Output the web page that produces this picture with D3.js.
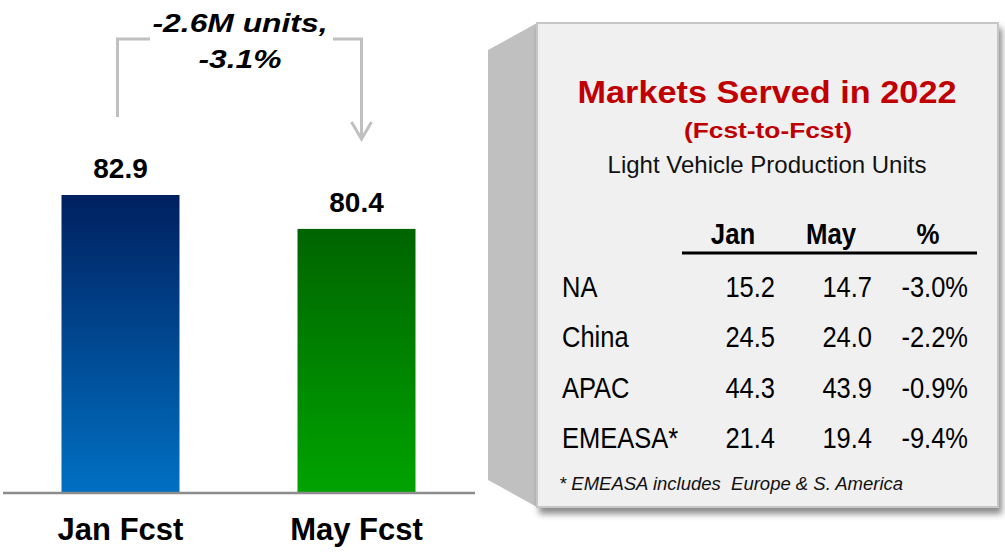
<!DOCTYPE html>
<html>
<head>
<meta charset="utf-8">
<script src="https://cdn.jsdelivr.net/npm/d3@7"></script>
<style>
  html, body { margin: 0; padding: 0; background: #fff; }
  svg { display: block; font-family: "Liberation Sans", Arial, sans-serif; }
</style>
</head>
<body>
<div class="viz"></div>
<script>
// bar chart data
var forecasts = ['Jan Fcst', 'May Fcst'],
    totals = [82.9, 80.4],
    deltaLines = ['-2.6M units,', '-3.1%'];

// table data
var regions = ['NA', 'China', 'APAC', 'EMEASA*'],
    janUnits = [15.2, 24.5, 44.3, 21.4],
    mayUnits = [14.7, 24.0, 43.9, 19.4],
    pctChange = [-3.0, -2.2, -0.9, -9.4],
    tableHeads = ['Jan', 'May', '%'];

var width = 1005,
    height = 552,
    baseY = 492,
    axisMin = 61;   // the original bars sit on a cut axis

var svg = d3.select('.viz').append('svg')
  .attr('width', width)
  .attr('height', height);

var defs = svg.append('defs');

var gradColors = [['#002060', '#0070c2'], ['#006400', '#00a300']];
forecasts.forEach(function(f, i){
  var g = defs.append('linearGradient')
    .attr('id', 'grad' + i)
    .attr('x1', 0).attr('y1', 0).attr('x2', 0).attr('y2', 1);
  g.append('stop').attr('offset', '0%').attr('stop-color', gradColors[i][0]);
  g.append('stop').attr('offset', '100%').attr('stop-color', gradColors[i][1]);
});

var shadow = defs.append('filter')
  .attr('id', 'shadow')
  .attr('x', '-5%').attr('y', '-5%').attr('width', '115%').attr('height', '115%');
shadow.append('feDropShadow')
  .attr('dx', 3).attr('dy', 6).attr('stdDeviation', 3)
  .attr('flood-color', '#000').attr('flood-opacity', 0.45);

/* bars */
var x = d3.scaleBand()
  .domain(forecasts)
  .range([2.5, 474.5])
  .paddingInner(0.5)
  .paddingOuter(0.25);

var y = d3.scaleLinear()
  .domain([axisMin, totals[0]])
  .range([baseY, 195]);

var bars = svg.append('g').attr('class', 'bars');

bars.selectAll('rect')
  .data(forecasts)
  .enter()
  .append('rect')
  .attr('x', function(d){ return x(d); })
  .attr('width', x.bandwidth())
  .attr('y', function(d, i){ return y(totals[i]); })
  .attr('height', function(d, i){ return baseY - y(totals[i]); })
  .attr('fill', function(d, i){ return 'url(#grad' + i + ')'; });

bars.selectAll('.val')
  .data(forecasts)
  .enter()
  .append('text')
  .attr('class', 'val')
  .attr('x', function(d){ return x(d) + x.bandwidth() / 2; })
  .attr('y', function(d, i){ return y(totals[i]) - 17; })
  .attr('text-anchor', 'middle')
  .style('font-size', '28px')
  .style('font-weight', 'bold')
  .text(function(d, i){ return totals[i].toFixed(1); });

// baseline
svg.append('line')
  .attr('x1', 3).attr('x2', 475)
  .attr('y1', baseY + 1).attr('y2', baseY + 1)
  .attr('stroke', '#8c8c8c')
  .attr('stroke-width', 2.5);

var xAxis = d3.axisBottom(x).tickSize(0).tickPadding(0);
var axisG = svg.append('g')
  .attr('transform', 'translate(0,' + baseY + ')')
  .call(xAxis);
axisG.select('.domain').remove();
axisG.selectAll('text')
  .attr('y', 48)
  .attr('dy', 0)
  .attr('fill', '#000')
  .style('font-family', '"Liberation Sans", Arial, sans-serif')
  .style('font-size', '31px')
  .style('font-weight', 'bold');

/* change annotation */
var x0 = x(forecasts[0]) + x.bandwidth() / 2 - 3,
    x1 = x(forecasts[1]) + x.bandwidth() / 2 + 5;

svg.append('path')
  .attr('d', 'M' + x0 + ',117 V39 H150 M333,39 H' + x1 + ' V139')
  .attr('fill', 'none')
  .attr('stroke', '#c0c0c0')
  .attr('stroke-width', 3);
svg.append('path')
  .attr('d', 'M' + (x1 - 10) + ',122 L' + x1 + ',139 L' + (x1 + 10) + ',122')
  .attr('fill', 'none')
  .attr('stroke', '#c0c0c0')
  .attr('stroke-width', 3);

var deltaWidths = [175, 83];
svg.selectAll('.delta')
  .data(deltaLines)
  .enter()
  .append('text')
  .attr('class', 'delta')
  .attr('x', 240)
  .attr('y', function(d, i){ return 32 + i * 36; })
  .attr('text-anchor', 'middle')
  .attr('textLength', function(d, i){ return deltaWidths[i]; })
  .attr('lengthAdjust', 'spacingAndGlyphs')
  .style('font-size', '26px')
  .style('font-weight', 'bold')
  .style('font-style', 'italic')
  .text(function(d){ return d; });

/* markets panel */
var panel = svg.append('g').attr('class', 'panel');

panel.append('path')
  .attr('d', 'M488,50 L537,23 L537,507 L488,480 Z')
  .attr('fill', '#c0c0c0');

panel.append('rect')
  .attr('x', 537).attr('y', 23)
  .attr('width', 461).attr('height', 484)
  .attr('fill', '#f0f0f0')
  .attr('stroke', '#c6c6c6')
  .attr('stroke-width', 2)
  .attr('filter', 'url(#shadow)');

panel.append('text')
  .attr('x', 767).attr('y', 103)
  .attr('text-anchor', 'middle')
  .attr('textLength', 379)
  .attr('lengthAdjust', 'spacingAndGlyphs')
  .attr('fill', '#c00000')
  .style('font-size', '32px')
  .style('font-weight', 'bold')
  .text('Markets Served in 2022');

panel.append('text')
  .attr('x', 768).attr('y', 138)
  .attr('text-anchor', 'middle')
  .attr('textLength', 168)
  .attr('lengthAdjust', 'spacingAndGlyphs')
  .attr('fill', '#c00000')
  .style('font-size', '22px')
  .style('font-weight', 'bold')
  .text('(Fcst-to-Fcst)');

panel.append('text')
  .attr('x', 767).attr('y', 173)
  .attr('text-anchor', 'middle')
  .attr('fill', '#111')
  .style('font-size', '24px')
  .text('Light Vehicle Production Units');

// header
var headX = [733, 831, 928];
panel.selectAll('.head')
  .data(tableHeads)
  .enter()
  .append('text')
  .attr('class', 'head')
  .attr('transform', function(d, i){ return 'translate(' + headX[i] + ',244) scale(0.86,1)'; })
  .attr('text-anchor', 'middle')
  .style('font-size', '30px')
  .style('font-weight', 'bold')
  .text(function(d){ return d; });

panel.append('line')
  .attr('x1', 682).attr('x2', 977)
  .attr('y1', 253).attr('y2', 253)
  .attr('stroke', '#000')
  .attr('stroke-width', 3);

var rowY = d3.scalePoint()
  .domain(regions)
  .range([297, 448]);

var colRight = [775, 872, 968];
var cols = [
  janUnits.map(function(v){ return v.toFixed(1); }),
  mayUnits.map(function(v){ return v.toFixed(1); }),
  pctChange.map(function(v){ return v.toFixed(1) + '%'; })
];

var rows = panel.selectAll('.row')
  .data(regions)
  .enter()
  .append('g')
  .attr('class', 'row')
  .attr('transform', function(d){ return 'translate(0,' + rowY(d) + ')'; });

rows.append('text')
  .attr('transform', 'translate(562,0) scale(0.85,1)')
  .style('font-size', '30px')
  .text(function(d){ return d; });

cols.forEach(function(col, c){
  rows.append('text')
    .attr('transform', 'translate(' + colRight[c] + ',0) scale(0.85,1)')
    .attr('text-anchor', 'end')
    .style('font-size', '30px')
    .text(function(d, i){ return col[i]; });
});

panel.append('text')
  .attr('x', 559).attr('y', 490)
  .style('font-size', '18.5px')
  .style('font-style', 'italic')
  .attr('fill', '#111')
  .attr('xml:space', 'preserve')
  .text('* EMEASA includes  Europe & S. America');
</script>
</body>
</html>
